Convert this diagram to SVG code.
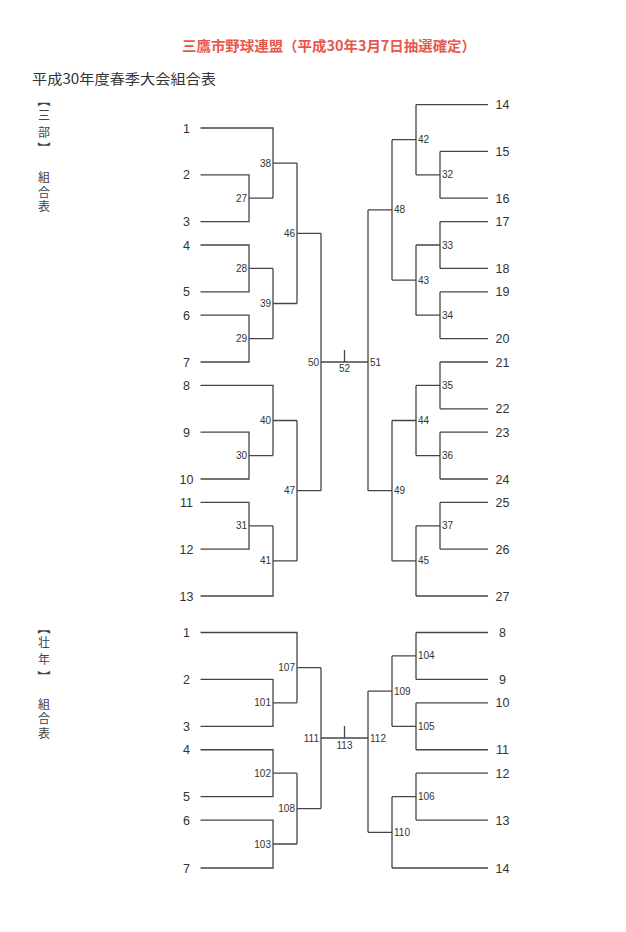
<svg xmlns="http://www.w3.org/2000/svg" width="626" height="932" viewBox="0 0 626 932">
<style>
.ln{fill:none;stroke:#454545;stroke-width:1.3}
.tl{font-family:"Liberation Sans",Arial,sans-serif;font-size:12.5px;fill:#333;text-anchor:middle}
.ml{font-family:"Liberation Sans",Arial,sans-serif;font-size:10px;fill:#333}
.me{text-anchor:end}.ms{text-anchor:start}.mm{text-anchor:middle}
.vt{font-family:"Noto Sans CJK JP","Noto Sans CJK SC",sans-serif;font-size:12px;fill:#444;text-anchor:middle}
.vv{font-family:"Noto Sans CJK JP","Noto Sans CJK SC",sans-serif;font-size:12px;fill:#444;writing-mode:vertical-rl;letter-spacing:2.5px}
.br{font-family:"Noto Sans CJK JP","Noto Sans CJK SC",sans-serif;font-size:13px;fill:#444;text-anchor:middle;dominant-baseline:central}
.title{font-family:"Noto Sans CJK JP","Noto Sans CJK SC",sans-serif;font-size:14px;font-weight:bold;fill:#e8564c}
.sub{font-family:"Noto Sans CJK JP","Noto Sans CJK SC",sans-serif;font-size:14px;fill:#333}
</style>
<rect width="626" height="932" fill="#fff"/>
<g id="header">
<text class="title" x="182" y="50.5" textLength="294" lengthAdjust="spacingAndGlyphs">三鷹市野球連盟（平成30年3月7日抽選確定）</text>
<text class="sub" x="32" y="83.5" textLength="184" lengthAdjust="spacingAndGlyphs">平成30年度春季大会組合表</text>
</g>
<g id="label-sanbu">
<text class="br" transform="translate(44,100.5) rotate(90)">【</text><text class="vt" x="44" y="119.5">三</text><text class="vt" x="44" y="136.5">部</text><text class="br" transform="translate(44,148) rotate(90)">】</text>
<text class="vv" x="44" y="171.5">組合表</text>
</g>
<g id="label-sonen">
<text class="br" transform="translate(44,628) rotate(90)">【</text><text class="vt" x="44" y="647">壮</text><text class="vt" x="44" y="663.5">年</text><text class="br" transform="translate(44,676.5) rotate(90)">】</text>
<text class="vv" x="44" y="698">組合表</text>
</g>
<g id="connectors" class="ln">
<path d="M200.5,174.8H249V221.6H200.5M249,198.2H273"/>
<path d="M200.5,128H273V198.2M273,163.1H297"/>
<path d="M200.5,245H249V291.8H200.5M249,268.4H273"/>
<path d="M200.5,315.2H249V362H200.5M249,338.6H273"/>
<path d="M273,268.4V338.6M273,303.5H297"/>
<path d="M297,163.1V303.5M297,233.3H321"/>
<path d="M200.5,432.2H249V479H200.5M249,455.6H273"/>
<path d="M200.5,385.4H273V455.6M273,420.5H297"/>
<path d="M200.5,502.4H249V549.2H200.5M249,525.8H273"/>
<path d="M200.5,596H273V525.8M273,560.9H297"/>
<path d="M297,420.5V560.9M297,490.7H321"/>
<path d="M321,233.3V490.7M321,362H368"/>
<path d="M344.5,350V362"/>
<path d="M368,209.9V490.7"/>
<path d="M368,209.9H392M392,139.7V280.1"/>
<path d="M392,139.7H416M416,104.6V174.8M416,104.6H488"/>
<path d="M416,174.8H440M440,151.4V198.2M440,151.4H488M440,198.2H488"/>
<path d="M392,280.1H416M416,245V315.2"/>
<path d="M416,245H440M440,221.6V268.4M440,221.6H488M440,268.4H488"/>
<path d="M416,315.2H440M440,291.8V338.6M440,291.8H488M440,338.6H488"/>
<path d="M368,490.7H392M392,420.5V560.9"/>
<path d="M392,420.5H416M416,385.4V455.6"/>
<path d="M416,385.4H440M440,362V408.8M440,362H488M440,408.8H488"/>
<path d="M416,455.6H440M440,432.2V479M440,432.2H488M440,479H488"/>
<path d="M392,560.9H416M416,525.8V596M416,596H488"/>
<path d="M416,525.8H440M440,502.4V549.2M440,502.4H488M440,549.2H488"/>
<path d="M200.5,679.4H273V726.3H200.5M273,702.85H297"/>
<path d="M200.5,632.5H297V702.85M297,667.7H321"/>
<path d="M200.5,749.75H273V796.65H200.5M273,773.2H297"/>
<path d="M200.5,820.1H273V868H200.5M273,844H297"/>
<path d="M297,773.2V844M297,808.6H321"/>
<path d="M321,667.7V808.6M321,738H368"/>
<path d="M344.5,726V738"/>
<path d="M368,691.1V832.3"/>
<path d="M368,691.1H392M392,655.95V726.3"/>
<path d="M392,655.95H416M416,632.5V679.4M416,632.5H488M416,679.4H488"/>
<path d="M392,726.3H416M416,702.85V749.75M416,702.85H488M416,749.75H488"/>
<path d="M368,832.3H392M392,796.65V868M392,868H488"/>
<path d="M392,796.65H416M416,773.2V820.1M416,773.2H488M416,820.1H488"/>
</g>
<g id="teams-sanbu">
<g id="t1"><text class="tl" x="186.5" y="132.5">1</text></g>
<g id="t2"><text class="tl" x="186.5" y="179.3">2</text></g>
<g id="t3"><text class="tl" x="186.5" y="226.1">3</text></g>
<g id="t4"><text class="tl" x="186.5" y="249.5">4</text></g>
<g id="t5"><text class="tl" x="186.5" y="296.3">5</text></g>
<g id="t6"><text class="tl" x="186.5" y="319.7">6</text></g>
<g id="t7"><text class="tl" x="186.5" y="366.5">7</text></g>
<g id="t8"><text class="tl" x="186.5" y="389.9">8</text></g>
<g id="t9"><text class="tl" x="186.5" y="436.7">9</text></g>
<g id="t10"><text class="tl" x="186.5" y="483.5">10</text></g>
<g id="t11"><text class="tl" x="186.5" y="506.9">11</text></g>
<g id="t12"><text class="tl" x="186.5" y="553.7">12</text></g>
<g id="t13"><text class="tl" x="186.5" y="600.5">13</text></g>
<g id="t14"><text class="tl" x="502.5" y="109.1">14</text></g>
<g id="t15"><text class="tl" x="502.5" y="155.9">15</text></g>
<g id="t16"><text class="tl" x="502.5" y="202.7">16</text></g>
<g id="t17"><text class="tl" x="502.5" y="226.1">17</text></g>
<g id="t18"><text class="tl" x="502.5" y="272.9">18</text></g>
<g id="t19"><text class="tl" x="502.5" y="296.3">19</text></g>
<g id="t20"><text class="tl" x="502.5" y="343.1">20</text></g>
<g id="t21"><text class="tl" x="502.5" y="366.5">21</text></g>
<g id="t22"><text class="tl" x="502.5" y="413.3">22</text></g>
<g id="t23"><text class="tl" x="502.5" y="436.7">23</text></g>
<g id="t24"><text class="tl" x="502.5" y="483.5">24</text></g>
<g id="t25"><text class="tl" x="502.5" y="506.9">25</text></g>
<g id="t26"><text class="tl" x="502.5" y="553.7">26</text></g>
<g id="t27"><text class="tl" x="502.5" y="600.5">27</text></g>
</g>
<g id="matches-sanbu" class="ml">
<g id="m27"><text class="me" x="247" y="201.7">27</text></g>
<g id="m28"><text class="me" x="247" y="271.9">28</text></g>
<g id="m29"><text class="me" x="247" y="342.1">29</text></g>
<g id="m30"><text class="me" x="247" y="459.1">30</text></g>
<g id="m31"><text class="me" x="247" y="529.3">31</text></g>
<g id="m38"><text class="me" x="271" y="166.6">38</text></g>
<g id="m39"><text class="me" x="271" y="307">39</text></g>
<g id="m40"><text class="me" x="271" y="424">40</text></g>
<g id="m41"><text class="me" x="271" y="564.4">41</text></g>
<g id="m46"><text class="me" x="295" y="236.8">46</text></g>
<g id="m47"><text class="me" x="295" y="494.2">47</text></g>
<g id="m50"><text class="me" x="319" y="365.5">50</text></g>
<g id="m52"><text class="mm" x="344.5" y="372">52</text></g>
<g id="m51"><text class="ms" x="370" y="365.5">51</text></g>
<g id="m48"><text class="ms" x="394" y="213.4">48</text></g>
<g id="m49"><text class="ms" x="394" y="494.2">49</text></g>
<g id="m42"><text class="ms" x="418" y="143.2">42</text></g>
<g id="m43"><text class="ms" x="418" y="283.6">43</text></g>
<g id="m44"><text class="ms" x="418" y="424">44</text></g>
<g id="m45"><text class="ms" x="418" y="564.4">45</text></g>
<g id="m32"><text class="ms" x="442" y="178.3">32</text></g>
<g id="m33"><text class="ms" x="442" y="248.5">33</text></g>
<g id="m34"><text class="ms" x="442" y="318.7">34</text></g>
<g id="m35"><text class="ms" x="442" y="388.9">35</text></g>
<g id="m36"><text class="ms" x="442" y="459.1">36</text></g>
<g id="m37"><text class="ms" x="442" y="529.3">37</text></g>
</g>
<g id="teams-sonen">
<g id="s1"><text class="tl" x="186.5" y="637">1</text></g>
<g id="s2"><text class="tl" x="186.5" y="683.9">2</text></g>
<g id="s3"><text class="tl" x="186.5" y="730.8">3</text></g>
<g id="s4"><text class="tl" x="186.5" y="754.25">4</text></g>
<g id="s5"><text class="tl" x="186.5" y="801.15">5</text></g>
<g id="s6"><text class="tl" x="186.5" y="824.6">6</text></g>
<g id="s7"><text class="tl" x="186.5" y="872.5">7</text></g>
<g id="s8"><text class="tl" x="502.5" y="637">8</text></g>
<g id="s9"><text class="tl" x="502.5" y="683.9">9</text></g>
<g id="s10"><text class="tl" x="502.5" y="707.35">10</text></g>
<g id="s11"><text class="tl" x="502.5" y="754.25">11</text></g>
<g id="s12"><text class="tl" x="502.5" y="777.7">12</text></g>
<g id="s13"><text class="tl" x="502.5" y="824.6">13</text></g>
<g id="s14"><text class="tl" x="502.5" y="872.5">14</text></g>
</g>
<g id="matches-sonen" class="ml">
<g id="m101"><text class="me" x="271" y="706.35">101</text></g>
<g id="m102"><text class="me" x="271" y="776.7">102</text></g>
<g id="m103"><text class="me" x="271" y="847.5">103</text></g>
<g id="m107"><text class="me" x="295" y="671.2">107</text></g>
<g id="m108"><text class="me" x="295" y="812.1">108</text></g>
<g id="m111"><text class="me" x="319" y="741.5">111</text></g>
<g id="m113"><text class="mm" x="344.5" y="748.5">113</text></g>
<g id="m112"><text class="ms" x="370" y="741.5">112</text></g>
<g id="m109"><text class="ms" x="394" y="694.6">109</text></g>
<g id="m110"><text class="ms" x="394" y="835.8">110</text></g>
<g id="m104"><text class="ms" x="418" y="659.45">104</text></g>
<g id="m105"><text class="ms" x="418" y="729.8">105</text></g>
<g id="m106"><text class="ms" x="418" y="800.15">106</text></g>
</g>
</svg>
